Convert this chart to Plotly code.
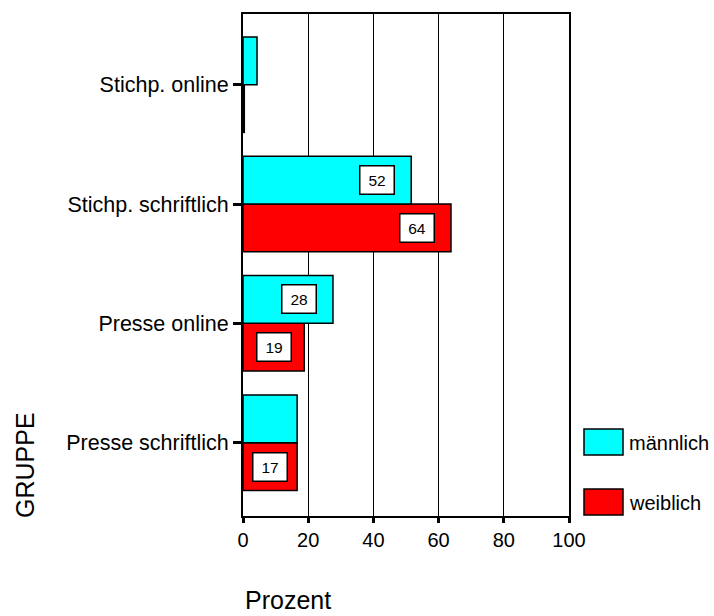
import plotly.graph_objects as go

# ---------------- data ----------------
categories = ["Presse schriftlich", "Presse online", "Stichp. schriftlich", "Stichp. online"]
maennlich = [16.6, 27.6, 51.6, 4.3]
weiblich = [16.6, 18.8, 63.8, 0.4]
show_label_m = [False, True, True, False]
show_label_w = [True, True, True, False]
x_ticks = [0, 20, 40, 60, 80, 100]
series_names = ["männlich", "weiblich"]
series_colors = ["#00FFFF", "#FF0000"]

# ---------------- layout geometry ----------------
W, H = 714, 616
L, R, T, B = 243, 145, 14, 100
PW, PH = W - L - R, H - T - B
FONT = "Liberation Sans, Arial, sans-serif"


def px2paper_x(px):
    return (px - L) / PW


def px2paper_y(py):
    return 1 - (py - T) / PH


fig = go.Figure()
# weiblich first so it sits below männlich in each group
fig.add_trace(go.Bar(y=categories, x=weiblich, orientation="h", name=series_names[1],
                     marker=dict(color=series_colors[1], line=dict(color="black", width=1.5)),
                     showlegend=False))
fig.add_trace(go.Bar(y=categories, x=maennlich, orientation="h", name=series_names[0],
                     marker=dict(color=series_colors[0], line=dict(color="black", width=1.5)),
                     showlegend=False))

# value labels in white boxes
px_per_unit = PW / 100.0
annotations = []
bar_half = 0.2  # half of a bar's thickness in category units (bargap 0.2, 2 bars)
for vals, shows, off in ((maennlich, show_label_m, +bar_half), (weiblich, show_label_w, -bar_half)):
    for i, (v, s) in enumerate(zip(vals, shows)):
        if not s:
            continue
        wpx = v * px_per_unit
        shift = -min(34, wpx / 2)
        annotations.append(dict(
            x=v, y=i + off, xref="x", yref="y", text=str(round(v)), showarrow=False,
            xshift=shift, font=dict(family=FONT, size=15.5, color="black"),
            bgcolor="white", bordercolor="black", borderwidth=1.5,
            width=31, height=25, align="center", valign="middle"))

# custom legend
shapes = []
legend_rows = [(429, 455, 443), (489, 515, 503)]
for (y0, y1, yc), name, col in zip(legend_rows, series_names, series_colors):
    shapes.append(dict(type="rect", xref="paper", yref="paper",
                       x0=px2paper_x(584), x1=px2paper_x(623),
                       y0=px2paper_y(y1), y1=px2paper_y(y0),
                       fillcolor=col, line=dict(color="black", width=1.5)))
    annotations.append(dict(x=px2paper_x(627), y=px2paper_y(yc), xref="paper", yref="paper",
                            text=name, showarrow=False, xanchor="left", yanchor="middle",
                            font=dict(family=FONT, size=20, color="black")))

# axis titles (SPSS style, aligned to axis start)
annotations.append(dict(x=px2paper_x(243), y=px2paper_y(600), xref="paper", yref="paper",
                        text="Prozent", showarrow=False, xanchor="left", yanchor="middle",
                        font=dict(family=FONT, size=25, color="black")))
annotations.append(dict(x=px2paper_x(25), y=px2paper_y(520), xref="paper", yref="paper",
                        text="GRUPPE", showarrow=False, textangle=-90,
                        xanchor="center", yanchor="bottom",
                        font=dict(family=FONT, size=25, color="black")))

fig.update_layout(
    width=W, height=H,
    margin=dict(l=L, r=R, t=T, b=B, pad=0),
    paper_bgcolor="white", plot_bgcolor="white",
    barmode="group", bargap=0.2, bargroupgap=0,
    annotations=annotations, shapes=shapes,
    font=dict(family=FONT, color="black"),
    xaxis=dict(range=[0, 100], tickvals=x_ticks, ticktext=[str(t) for t in x_ticks],
               showgrid=True, gridcolor="black", gridwidth=1,
               showline=True, linecolor="black", linewidth=1.5, mirror=True,
               ticks="outside", ticklen=5, tickwidth=3, tickcolor="black",
               tickfont=dict(family=FONT, size=20, color="black"),
               zeroline=False, fixedrange=True),
    yaxis=dict(type="category", categoryorder="array", categoryarray=categories,
               range=[-0.614, 3.592],
               showgrid=False, showline=True, linecolor="black", linewidth=2, mirror=True,
               ticks="outside", ticklen=8, tickwidth=3, tickcolor="black",
               tickfont=dict(family=FONT, size=21.5, color="black"),
               fixedrange=True),
)

fig.write_html("out.html")
